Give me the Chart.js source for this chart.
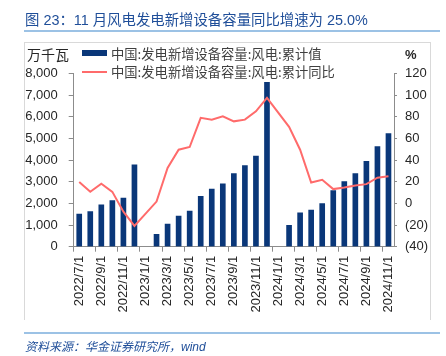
<!DOCTYPE html>
<html>
<head>
<meta charset="utf-8">
<script src="https://cdn.jsdelivr.net/npm/chart.js@4.4.1/dist/chart.umd.min.js"></script>
<style>
  html, body { margin: 0; padding: 0; background: #fff; }
  #wrap { position: relative; width: 446px; height: 356px; overflow: hidden; }
  canvas { position: absolute; left: 0; top: 0; }
  .t { position: absolute; white-space: nowrap; }
  .cjk { font-family: "Noto Sans CJK SC", "Noto Sans", sans-serif; }
  .mix { font-family: "Liberation Sans", "Noto Sans CJK SC", sans-serif; }
  .lat { font-family: "Liberation Sans", Arial, sans-serif; }
</style>
</head>
<body>
<div id="wrap">
  <canvas id="c" width="446" height="356"></canvas>
  <div class="t mix" style="left:25px;top:11px;font-size:14.4px;line-height:18px;color:#1f4e99;">图 23：11 月风电发电新增设备容量同比增速为 25.0%</div>
  <div style="position:absolute;left:24px;top:30px;width:416px;height:2px;background:#9cc2e5;"></div>
  <div style="position:absolute;left:24px;top:42px;width:407px;height:278px;border:1px solid #d9d9d9;box-sizing:border-box;border-bottom:none;"></div>
  <div class="t cjk" style="left:27px;top:45px;font-size:14px;line-height:18px;color:#262626;">万千瓦</div>
  <div class="t lat" style="left:405px;top:47px;font-size:13px;line-height:16px;color:#262626;font-weight:bold;">%</div>
  <div style="position:absolute;left:82px;top:50px;width:25px;height:6px;background:#0a3779;"></div>
  <div class="t cjk" id="lg1" style="left:111px;top:45px;font-size:13.3px;line-height:17px;color:#404040;"></div>
  <div style="position:absolute;left:82px;top:71px;width:25px;height:2px;background:#ff6b6b;"></div>
  <div class="t cjk" id="lg2" style="left:111px;top:63px;font-size:13.3px;line-height:17px;color:#404040;"></div>
  <div style="position:absolute;left:24px;top:332px;width:416px;height:1.5px;background:#9cc2e5;"></div>
  <div class="t mix" style="left:25px;top:339px;font-size:12px;line-height:16px;color:#1f4e99;font-style:italic;">资料来源：华金证券研究所，wind</div>
</div>
<script>
const categories = [
  "2022/7/1","2022/8/1","2022/9/1","2022/10/1","2022/11/1","2022/12/1",
  "2023/1/1","2023/2/1","2023/3/1","2023/4/1","2023/5/1","2023/6/1",
  "2023/7/1","2023/8/1","2023/9/1","2023/10/1","2023/11/1","2023/12/1",
  "2024/1/1","2024/2/1","2024/3/1","2024/4/1","2024/5/1","2024/6/1",
  "2024/7/1","2024/8/1","2024/9/1","2024/10/1","2024/11/1"
];
const seriesNames = ["中国:发电新增设备容量:风电:累计值", "中国:发电新增设备容量:风电:累计同比"];
const cumulativeValue = [
  1510, 1620, 1930, 2130, 2250, 3780,
  null, 570, 1050, 1420, 1640, 2330,
  2660, 2900, 3380, 3750, 4190, 7590,
  null, 990, 1560, 1690, 1990, 2590,
  3010, 3380, 3940, 4620, 5220
];
const cumulativeYoY = [
  19.7, 10.7, 18.1, 10.7, -7.6, -20.8,
  null, 1.7, 32.7, 49.6, 52.1, 79.0,
  77.4, 80.5, 75.8, 77.4, 85.1, 97.5,
  null, 70.7, 49.6, 19.3, 21.8, 13.2,
  14.7, 16.5, 17.8, 23.7, 25.0
];
const leftTicks = [0, 1000, 2000, 3000, 4000, 5000, 6000, 7000, 8000];
const rightTicks = [-40, -20, 0, 20, 40, 60, 80, 100, 120];

document.getElementById('lg1').textContent = seriesNames[0];
document.getElementById('lg2').textContent = seriesNames[1];

const axisColor = '#8c8c8c';
const tickFont = { family: '"Liberation Sans", Arial, sans-serif', size: 13 };

new Chart(document.getElementById('c'), {
  type: 'bar',
  data: {
    labels: categories,
    datasets: [
      {
        type: 'line',
        label: seriesNames[1],
        data: cumulativeYoY,
        yAxisID: 'y1',
        borderColor: '#ff6b6b',
        backgroundColor: '#ff6b6b',
        borderWidth: 2,
        pointRadius: 0,
        tension: 0,
        spanGaps: true,
        order: 0
      },
      {
        type: 'bar',
        label: seriesNames[0],
        data: cumulativeValue,
        yAxisID: 'y',
        backgroundColor: '#0a3779',
        barThickness: 5,
        order: 1
      }
    ]
  },
  options: {
    responsive: false,
    animation: false,
    layout: { padding: { top: 73.5, left: 0, right: 0, bottom: 0 } },
    plugins: { legend: { display: false }, title: { display: false }, tooltip: { enabled: false } },
    scales: {
      x: {
        offset: true,
        grid: {
          offset: true,
          drawOnChartArea: false,
          drawTicks: true,
          tickLength: 5,
          color: (ctx) => (ctx.index % 2 === 0 ? axisColor : 'rgba(0,0,0,0)')
        },
        border: { display: true, color: axisColor },
        ticks: {
          autoSkip: false,
          maxRotation: 90,
          minRotation: 90,
          padding: 4,
          color: '#262626',
          font: tickFont,
          callback: (v, i) => (i % 2 === 0 ? categories[i] : '')
        },
        afterFit: (s) => { s.height = 356 - 246.7; }
      },
      y: {
        position: 'left',
        min: leftTicks[0],
        max: leftTicks[leftTicks.length - 1],
        afterBuildTicks: (s) => { s.ticks = leftTicks.map(v => ({ value: v })); },
        grid: { drawOnChartArea: false, drawTicks: true, tickLength: 5, color: axisColor },
        border: { display: true, color: axisColor },
        ticks: {
          padding: 11,
          color: '#262626',
          font: tickFont,
          callback: (v) => v.toLocaleString('en-US')
        },
        afterFit: (s) => { s.width = 73.7; }
      },
      y1: {
        position: 'right',
        min: rightTicks[0],
        max: rightTicks[rightTicks.length - 1],
        afterBuildTicks: (s) => { s.ticks = rightTicks.map(v => ({ value: v })); },
        grid: { drawOnChartArea: false, drawTicks: true, tickLength: 3, color: axisColor },
        border: { display: true, color: axisColor },
        ticks: {
          padding: 8,
          color: '#262626',
          font: tickFont,
          callback: (v) => (v < 0 ? '(' + Math.abs(v) + ')' : String(v))
        },
        afterFit: (s) => { s.width = 446 - 394; }
      }
    }
  }
});
</script>
</body>
</html>
